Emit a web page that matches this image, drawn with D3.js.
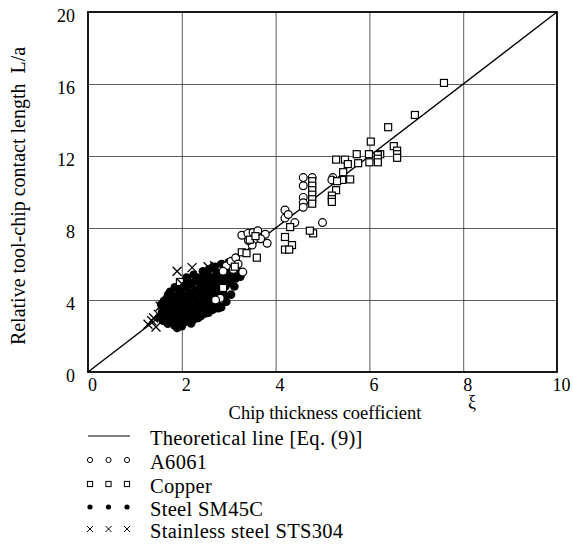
<!DOCTYPE html>
<html>
<head>
<meta charset="utf-8">
<script src="https://cdn.jsdelivr.net/npm/d3@7"></script>
<style>
  body { margin: 0; background: #fff; }
  text { font-family: "Liberation Serif", "Times New Roman", serif; fill: #000; }
</style>
</head>
<body>
<div id="chart"></div>
<script>
// tick values
let xTicks = [0, 2, 4, 6, 8, 10];
let yTicks = [0, 4, 8, 12, 16, 20];

// theoretical line L/a = 2 xi
let theoryLine = [[0, 0], [10, 20]];

// A6061 (open circles) [xi, L/a]
let a6061 = [
  [3.28, 7.6], [3.41, 7.7], [3.52, 7.75], [3.62, 7.85], [3.78, 7.65], [3.82, 7.15],
  [3.5, 7.05], [3.42, 7.3], [3.68, 7.4], [3.3, 5.55], [2.82, 4.1], [2.72, 4.0],
  [2.95, 5.9], [3.05, 6.15], [3.15, 6.35], [3.2, 6.0], [2.88, 5.6], [3.1, 5.7],
  [4.2, 9.0], [4.2, 8.55], [4.27, 8.75], [4.41, 8.3], [5.0, 8.3],
  [4.59, 10.8], [4.59, 10.35], [4.59, 9.7], [4.59, 9.4], [4.59, 9.15],
  [4.78, 10.8], [5.22, 10.8], [5.2, 10.67]
];

// Copper (open squares) [xi, L/a]
let copper = [
  [7.59, 16.06], [6.97, 14.28], [6.4, 13.6], [6.52, 12.55], [6.59, 12.3], [6.59, 12.1],
  [6.59, 11.9], [6.23, 12.1], [6.03, 12.8], [5.29, 11.8], [5.48, 11.8], [5.73, 12.1],
  [5.99, 12.1], [6.18, 12.05], [6.18, 11.85], [6.18, 11.65], [5.54, 11.55], [5.76, 11.6],
  [6.0, 11.65], [5.44, 11.1], [5.59, 10.7], [5.42, 10.67], [5.31, 10.6], [5.29, 10.1],
  [5.2, 9.8], [5.2, 9.6], [5.2, 9.45], [4.78, 10.6], [4.78, 10.35], [4.78, 10.1],
  [4.78, 9.85], [4.78, 9.6], [4.78, 9.35], [4.31, 8.05], [4.8, 7.7], [4.73, 7.85],
  [4.2, 7.5], [4.35, 7.05], [4.2, 6.8], [4.29, 6.8], [3.6, 6.35], [3.28, 6.65],
  [3.38, 6.6], [1.96, 5.0], [2.88, 4.67], [3.45, 7.35], [3.57, 7.55], [3.13, 5.85]
];

// Steel SM45C (filled circles) [xi, L/a]
let steel = [
  [1.52, 3.05], [1.58, 3.35], [1.6, 2.85], [1.63, 3.6], [1.66, 3.12], [1.7, 2.68],
  [1.72, 3.4], [1.74, 3.9], [1.77, 2.95], [1.79, 3.25], [1.8, 3.62], [1.82, 4.15],
  [1.84, 2.6], [1.86, 3.05], [1.88, 3.45], [1.9, 3.8], [1.92, 4.3], [1.94, 2.75],
  [1.95, 3.2], [1.97, 3.55], [1.99, 4.0], [2.0, 4.55], [2.02, 2.9], [2.04, 3.35],
  [2.06, 3.75], [2.08, 4.2], [2.1, 4.7], [2.12, 3.05], [2.14, 3.5], [2.16, 3.95],
  [2.18, 4.4], [2.2, 4.9], [2.22, 3.2], [2.24, 3.65], [2.26, 4.1], [2.28, 4.55],
  [2.3, 5.05], [2.32, 3.1], [2.34, 3.5], [2.36, 3.9], [2.38, 4.35], [2.4, 4.8],
  [2.42, 5.2], [2.44, 3.35], [2.46, 3.75], [2.48, 4.2], [2.5, 4.6], [2.52, 5.0],
  [2.54, 5.35], [2.56, 3.6], [2.58, 4.0], [2.6, 4.45], [2.62, 4.85], [2.64, 5.25],
  [2.66, 3.8], [2.68, 4.25], [2.7, 4.65], [2.72, 5.05], [2.74, 5.5], [2.76, 3.95],
  [2.78, 4.4], [2.8, 4.85], [2.82, 5.25], [2.84, 3.6], [2.86, 4.6], [2.88, 5.0],
  [2.9, 5.4], [2.93, 4.75], [2.96, 5.15], [2.99, 5.55], [3.02, 4.95], [3.06, 5.35],
  [3.1, 5.75], [3.15, 5.2], [3.2, 5.6], [1.68, 4.1], [1.75, 4.45], [1.85, 4.7],
  [1.98, 4.95], [2.1, 5.25], [2.0, 2.55], [2.2, 2.7], [2.35, 3.0], [2.5, 3.25],
  [1.9, 2.45], [2.65, 3.45], [2.78, 3.55], [2.95, 3.9], [3.05, 4.3], [2.25, 5.4],
  [2.45, 5.6], [2.58, 5.7], [2.7, 5.85], [2.85, 6.0], [3.0, 6.1],
  [1.62, 3.95], [1.76, 2.75], [1.93, 2.62], [2.07, 2.78], [2.15, 2.88], [2.27, 2.95],
  [2.41, 3.12], [2.57, 3.3], [2.71, 3.55], [2.91, 4.25], [3.12, 4.75], [3.25, 5.3],
  [1.56, 3.75], [1.71, 4.3], [1.95, 4.65], [2.13, 5.05], [2.33, 5.25], [2.52, 5.55]
];

// Stainless steel STS304 (crosses) [xi, L/a]
let sts304 = [
  [1.28, 2.65], [1.36, 2.85], [1.45, 2.5], [1.4, 3.0], [1.54, 3.65], [1.7, 3.8],
  [1.9, 5.6], [2.22, 5.8], [2.56, 5.85], [1.6, 3.3], [1.5, 3.2], [1.8, 4.4],
  [2.0, 4.9], [2.35, 5.3], [2.7, 5.9]
];

let legendLabels = ["Theoretical line [Eq. (9)]", "A6061", "Copper", "Steel SM45C", "Stainless steel STS304"];

let svgWidth = 573;
let svgHeight = 547;

let svg = d3.select("#chart")
  .append("svg")
  .attr("width", svgWidth)
  .attr("height", svgHeight);

let x = d3.scaleLinear().domain([0, 10]).range([88, 557]);
let y = d3.scaleLinear().domain([0, 20]).range([372, 12]);

// grid lines
let grid = svg.append("g");
grid.append("g")
  .attr("transform", `translate(0,${y(0)})`)
  .call(d3.axisBottom(x).tickValues(xTicks.slice(1, -1)).tickSize(-(y(0) - y(20))).tickFormat(""))
  .call(g => g.select(".domain").remove())
  .call(g => g.selectAll("line").attr("stroke", "#333").attr("stroke-width", 0.8));
grid.append("g")
  .attr("transform", `translate(${x(0)},0)`)
  .call(d3.axisLeft(y).tickValues(yTicks.slice(1, -1)).tickSize(-(x(10) - x(0))).tickFormat(""))
  .call(g => g.select(".domain").remove())
  .call(g => g.selectAll("line").attr("stroke", "#333").attr("stroke-width", 0.8));

// tick labels
svg.append("g")
  .attr("transform", `translate(4,${y(0)})`)
  .call(d3.axisBottom(x).tickValues(xTicks).tickSize(0).tickPadding(6))
  .call(g => g.select(".domain").remove())
  .call(g => g.selectAll("text").attr("font-size", 18).style("font-family", "Liberation Serif"));
svg.append("g")
  .attr("transform", `translate(${x(0) - 13},4)`)
  .call(d3.axisLeft(y).tickValues(yTicks).tickSize(0).tickPadding(0))
  .call(g => g.select(".domain").remove())
  .call(g => g.selectAll("text").attr("font-size", 18).style("font-family", "Liberation Serif"));

// theoretical line
let line = d3.line().x(d => x(d[0])).y(d => y(d[1]));
svg.append("path")
  .datum(theoryLine)
  .attr("d", line)
  .attr("fill", "none")
  .attr("stroke", "#000")
  .attr("stroke-width", 1.4);

// steel (filled)
svg.append("g").selectAll("circle")
  .data(steel)
  .enter()
  .append("circle")
  .attr("cx", d => x(d[0]))
  .attr("cy", d => y(d[1]))
  .attr("r", 4.3)
  .attr("fill", "#000");

// A6061 (open circles)
svg.append("g").selectAll("circle")
  .data(a6061)
  .enter()
  .append("circle")
  .attr("cx", d => x(d[0]))
  .attr("cy", d => y(d[1]))
  .attr("r", 3.9)
  .attr("fill", "#fff")
  .attr("stroke", "#000")
  .attr("stroke-width", 1.2);

// copper (open squares)
svg.append("g").selectAll("rect")
  .data(copper)
  .enter()
  .append("rect")
  .attr("x", d => x(d[0]) - 3.5)
  .attr("y", d => y(d[1]) - 3.5)
  .attr("width", 7)
  .attr("height", 7)
  .attr("fill", "#fff")
  .attr("stroke", "#000")
  .attr("stroke-width", 1.2);

// stainless (crosses)
let crossPath = s => `M${-s},${-s}L${s},${s}M${-s},${s}L${s},${-s}`;
svg.append("g").selectAll("path")
  .data(sts304)
  .enter()
  .append("path")
  .attr("transform", d => `translate(${x(d[0])},${y(d[1])})`)
  .attr("d", crossPath(4.5))
  .attr("stroke", "#000")
  .attr("stroke-width", 1.3);

// frame
svg.append("rect")
  .attr("x", x(0))
  .attr("y", y(20))
  .attr("width", x(10) - x(0))
  .attr("height", y(0) - y(20))
  .attr("fill", "none")
  .attr("stroke", "#000")
  .attr("stroke-width", 1.8);

// axis titles
svg.append("text")
  .attr("x", 325)
  .attr("y", 419)
  .attr("text-anchor", "middle")
  .attr("font-size", 18.5)
  .text("Chip thickness coefficient");
svg.append("text")
  .attr("x", 472)
  .attr("y", 408)
  .attr("text-anchor", "middle")
  .attr("font-size", 18)
  .text("ξ");
svg.append("text")
  .attr("transform", "translate(25,196) rotate(-90)")
  .attr("text-anchor", "middle")
  .attr("font-size", 20)
  .attr("xml:space", "preserve")
  .text("Relative tool-chip contact length  L/a");

// legend
let legendY = [436, 460, 484, 507, 529];
let legendSymX = [90, 108.5, 127];
let legend = svg.append("g");
legend.append("line")
  .attr("x1", 88).attr("x2", 130)
  .attr("y1", legendY[0]).attr("y2", legendY[0])
  .attr("stroke", "#000").attr("stroke-width", 1.2);
legend.selectAll(".lc").data(legendSymX).enter().append("circle")
  .attr("cx", d => d).attr("cy", legendY[1]).attr("r", 2.6)
  .attr("fill", "#fff").attr("stroke", "#000").attr("stroke-width", 1);
legend.selectAll(".ls").data(legendSymX).enter().append("rect")
  .attr("x", d => d - 2.6).attr("y", legendY[2] - 2.6).attr("width", 5.2).attr("height", 5.2)
  .attr("fill", "#fff").attr("stroke", "#000").attr("stroke-width", 1);
legend.selectAll(".ld").data(legendSymX).enter().append("circle")
  .attr("cx", d => d).attr("cy", legendY[3]).attr("r", 2.6)
  .attr("fill", "#000");
legend.selectAll(".lx").data(legendSymX).enter().append("path")
  .attr("transform", d => `translate(${d},${legendY[4]})`)
  .attr("d", crossPath(3))
  .attr("stroke", "#000").attr("stroke-width", 1);
legend.selectAll("text")
  .data(legendLabels)
  .enter()
  .append("text")
  .attr("x", 150)
  .attr("y", (d, i) => legendY[i] + 8.5)
  .attr("font-size", 20.5)
  .attr("letter-spacing", 0.3)
  .text(d => d);
</script>
</body>
</html>
